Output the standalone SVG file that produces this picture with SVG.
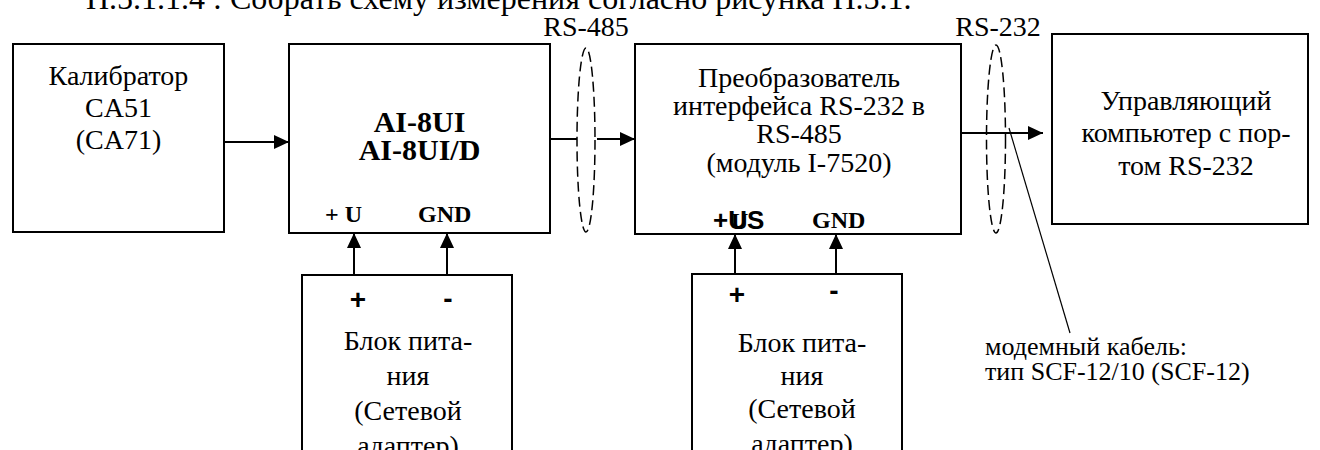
<svg xmlns="http://www.w3.org/2000/svg" width="1320" height="450" viewBox="0 0 1320 450">
<style>
.box{fill:#fff;stroke:#000;stroke-width:2}
.t{font-family:"Liberation Serif","Times New Roman",serif;font-size:28px;fill:#000}
.top{font-family:"Liberation Serif","Times New Roman",serif;font-size:32px;fill:#000}
.tb{font-family:"Liberation Serif","Times New Roman",serif;font-size:30px;font-weight:bold;fill:#000}
.pin{font-family:"Liberation Serif","Times New Roman",serif;font-size:24px;font-weight:bold;fill:#000}
.sb{font-family:"Liberation Sans",Arial,sans-serif;font-size:28px;font-weight:bold;fill:#000}
.us{font-family:"Liberation Sans",Arial,sans-serif;font-size:26px;font-weight:bold;fill:#000}
.small{font-family:"Liberation Serif","Times New Roman",serif;font-size:26px;fill:#000}
.ln{fill:none;stroke:#000;stroke-width:2}
.el{fill:none;stroke:#000;stroke-width:1.5;stroke-dasharray:10 5}
</style>
<defs>
<marker id="ah" markerUnits="userSpaceOnUse" markerWidth="16" markerHeight="14" refX="15" refY="7" orient="auto">
<path d="M0,0 L15,7 L0,14 Z" fill="#000"/>
</marker>
</defs>
<text class="top" x="86" y="9">Н.5.1.1.4 : Собрать схему измерения согласно рисунка Н.5.1.</text>
<text class="t" text-anchor="middle" x="586" y="36">RS-485</text>
<text class="t" text-anchor="middle" x="998" y="36">RS-232</text>
<g id="calibrator">
<rect class="box" x="13" y="44" width="211" height="188"/>
<text class="t" text-anchor="middle" x="118.5" y="85">Калибратор</text>
<text class="t" text-anchor="middle" x="118.5" y="117">CA51</text>
<text class="t" text-anchor="middle" x="118.5" y="149">(CA71)</text>
</g>
<g id="ai8ui">
<rect class="box" x="289" y="44" width="261" height="189"/>
<text class="tb" text-anchor="middle" x="419.5" y="132">AI-8UI</text>
<text class="tb" text-anchor="middle" x="419.5" y="160">AI-8UI/D</text>
<text class="pin" x="325" y="222">+ U</text>
<text class="pin" x="418" y="222">GND</text>
</g>
<g id="converter">
<rect class="box" x="635" y="44" width="326" height="190"/>
<text class="t" text-anchor="middle" x="799" y="87">Преобразователь</text>
<text class="t" text-anchor="middle" x="799" y="115">интерфейса RS-232 в</text>
<text class="t" text-anchor="middle" x="799" y="143">RS-485</text>
<text class="t" text-anchor="middle" x="799" y="172">(модуль I-7520)</text>
<text class="us" x="713" y="229">+US</text>
<text class="pin" x="731" y="229">U</text>
<text class="pin" x="812" y="228">GND</text>
</g>
<g id="computer">
<rect class="box" x="1052" y="34" width="256" height="190"/>
<text class="t" text-anchor="middle" x="1186" y="110">Управляющий</text>
<text class="t" text-anchor="middle" x="1186" y="142">компьютер с пор-</text>
<text class="t" text-anchor="middle" x="1186" y="175">том RS-232</text>
</g>
<g id="psu1">
<rect class="box" x="302" y="275" width="210" height="200"/>
<text class="sb" text-anchor="middle" x="358" y="309">+</text>
<text class="sb" text-anchor="middle" x="448" y="308">-</text>
<text class="t" text-anchor="middle" x="408" y="350">Блок пита-</text>
<text class="t" text-anchor="middle" x="408" y="385">ния</text>
<text class="t" text-anchor="middle" x="408" y="420">(Сетевой</text>
<text class="t" text-anchor="middle" x="408" y="455">адаптер)</text>
</g>
<g id="psu2">
<rect class="box" x="692" y="274" width="210" height="200"/>
<text class="sb" text-anchor="middle" x="737" y="304">+</text>
<text class="sb" text-anchor="middle" x="834" y="300">-</text>
<text class="t" text-anchor="middle" x="802" y="352">Блок пита-</text>
<text class="t" text-anchor="middle" x="802" y="385">ния</text>
<text class="t" text-anchor="middle" x="802" y="418">(Сетевой</text>
<text class="t" text-anchor="middle" x="802" y="453">адаптер)</text>
</g>
<g id="cable-note">
<text class="small" x="985" y="355">модемный кабель:</text>
<text class="small" x="985" y="380">тип SCF-12/10 (SCF-12)</text>
</g>
<g id="connectors">
<line class="ln" x1="224" y1="142" x2="289" y2="142" marker-end="url(#ah)"/>
<line class="ln" x1="550" y1="139" x2="577" y2="139"/>
<line class="ln" x1="597" y1="139" x2="635" y2="139" marker-end="url(#ah)"/>
<line class="ln" x1="961" y1="133" x2="1043" y2="133" marker-end="url(#ah)"/>
<line class="ln" x1="354" y1="275" x2="354" y2="233" marker-end="url(#ah)"/>
<line class="ln" x1="447" y1="275" x2="447" y2="233" marker-end="url(#ah)"/>
<line class="ln" x1="735" y1="274" x2="735" y2="234" marker-end="url(#ah)"/>
<line class="ln" x1="836" y1="274" x2="836" y2="234" marker-end="url(#ah)"/>
<line x1="1009" y1="128" x2="1070" y2="333" stroke="#000" stroke-width="1.2"/>
<ellipse class="el" cx="586" cy="140" rx="9" ry="92"/>
<ellipse class="el" cx="996" cy="139" rx="9.5" ry="94"/>
</g>
</svg>
